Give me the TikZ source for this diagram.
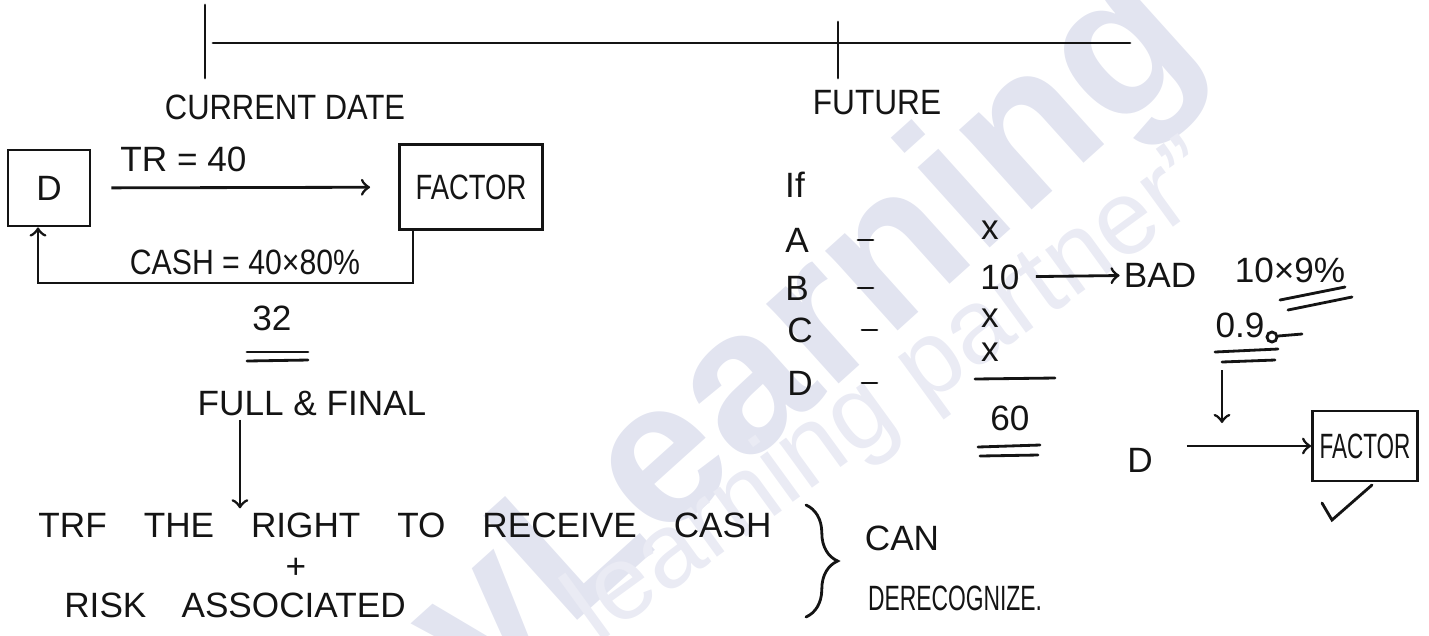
\documentclass[tikz,border=0pt]{standalone}
\usepackage{fontspec}
\setmainfont{Liberation Sans}
\usetikzlibrary{decorations.pathreplacing}
\definecolor{ink}{RGB}{20,20,20}
\definecolor{wmark}{RGB}{226,228,240}
\definecolor{wmarklight}{RGB}{234,235,244}
\newcommand{\hsq}[2]{\scalebox{#1}[1]{#2}}

\begin{document}
\begin{tikzpicture}[x=0.01cm, y=-0.01cm]
    \tikzstyle{every node} = [font=\fontsize{10}{12}\selectfont, text=ink, inner sep=1pt]
    \tikzstyle{box} = [draw=ink, thick, inner sep=2pt]
    \tikzstyle{arr} = [draw=ink, thick, ->]
    \tikzstyle{pen} = [draw=ink, thick, line cap=round]
    \useasboundingbox (0,0) rectangle (1429,635);

    % watermark
    \node[rotate=42, text=wmark, font=\bfseries\fontsize{58}{58}\selectfont] at (810,340) {vLearning};
    \node[rotate=36, text=wmarklight, font=\fontsize{30}{30}\selectfont] at (895,395) {learning partner''};

    % timeline
    \draw[pen] (213,43) -- (1130,43);
    \draw[pen] (205,5) -- (205,78);
    \draw[pen] (838,22) -- (838,78);
    \node (cur) at (285,107) {\hsq{0.88}{CURRENT DATE}};
    \node (fut) at (877,103) {\hsq{0.9}{FUTURE}};

    % today: D sells to factor
    \node[box, minimum width=0.82cm, minimum height=0.76cm] (d1) at (49,188) {D};
    \node[box, minimum width=1.43cm, minimum height=0.85cm] (f1) at (471,187) {\hsq{0.78}{FACTOR}};
    \draw[arr, shorten <=0.2cm, shorten >=0.28cm] (d1) -- (f1)
        node[pos=0.3, above=3pt] (tr) {TR = 40};
    \draw[arr] ([xshift=0.15cm]f1.south west) -- ++(0,52) -| ([xshift=-0.11cm]d1.south);
    \node (cash) at (245,262) {\hsq{0.86}{CASH = 40×80\%}};
    \node (n32) at (272,318) {32};
    \draw[pen] (247,352) -- (308,352);
    \draw[pen] (247,361) -- (308,360);
    \node (ff) at (312,403) {FULL \& FINAL};
    \node (trf) at (405,525) {TRF\hspace{1.05em}THE\hspace{1.05em}RIGHT\hspace{1.05em}TO\hspace{1.05em}RECEIVE\hspace{1.05em}CASH};
    \node (plus) at (296,568) {+};
    \node (risk) at (235,605) {RISK\hspace{1em}ASSOCIATED};
    \draw[arr] ([xshift=-0.72cm]ff.south) -- ([xshift=-0.72cm]ff.south |- trf.north);
    \draw[pen, decorate, decoration={brace, amplitude=9pt}] (806,505) -- (806,617);
    \node (can) at (902,538) {CAN};
    \node (derec) at (955,598) {\hsq{0.65}{DERECOGNIZE.}};

    % future: receivables
    \node (if) at (795,185) {If};
    \node (ra) at (797,240) {A};
    \node (rb) at (797,288) {B};
    \node (rc) at (800,330) {C};
    \node (rd) at (800,383) {D};
    \foreach \r in {ra,rb,rc,rd}
        \draw[pen] ([xshift=0.45cm]\r.east) -- ++(15,0);
    \node (xa) at (990,230) {x};
    \node (ten) at (1000,277) {10};
    \node (xc) at (990,318) {x};
    \node (xd) at (990,352) {x};
    \draw[pen] (975,379) -- (1055,378);
    \node (total) at (1010,418) {60};
    \draw[pen] (978,447) -- (1040,445);
    \draw[pen] (980,456) -- (1038,455);
    \node (bad) at (1160,275) {BAD};
    \draw[arr, shorten <=0.12cm] (ten) -- (bad);
    \node (loss) at (1290,270) {10×9\%};
    \draw[pen] (1280,300) -- (1345,287);
    \draw[pen] (1288,310) -- (1352,297);
    \node (nine) at (1240,325) {0.9};
    \draw[pen] (1272,337) circle (5);
    \draw[pen] (1278,336) -- (1302,334);
    \draw[pen] (1215,352) -- (1278,349);
    \draw[pen] (1222,362) -- (1275,360);
    \coordinate (drop) at (1222,423);
    \draw[arr] (1222,370) -- (drop);
    \node (d2) at (1140,460) {D};
    \node[box, minimum width=1.0cm, minimum height=0.7cm] (f2) at (1365,446) {\hsq{0.64}{FACTOR}};
    \draw[arr, shorten <=0.3cm] (d2.east |- f2) -- (f2.west);
    \draw[pen] (1322,503) -- (1332,520) -- (1372,485);
\end{tikzpicture}
\end{document}
